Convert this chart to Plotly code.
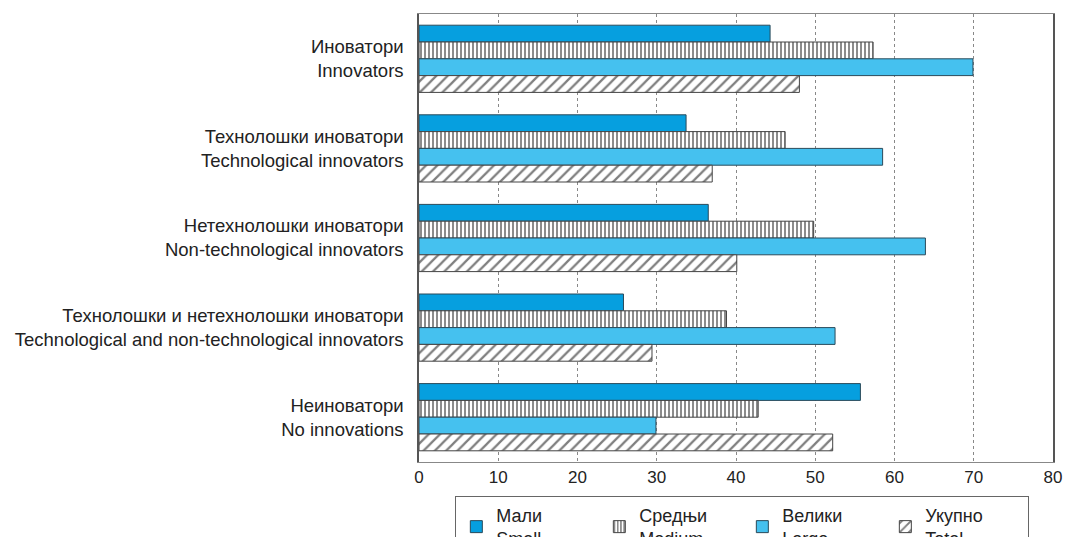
import plotly.graph_objects as go

# Kategorije (srpski + engleski)
categories = [
    "Иноватори<br>Innovators",
    "Технолошки иноватори<br>Technological innovators",
    "Нетехнолошки иноватори<br>Non-technological innovators",
    "Технолошки и нетехнолошки иноватори<br>Technological and non-technological innovators",
    "Неиноватори<br>No innovations",
]

# Vrednosti po veličini preduzeća (%)
small = [44.3, 33.7, 36.5, 25.8, 55.7]
medium = [57.3, 46.2, 49.8, 38.8, 42.8]
large = [69.9, 58.5, 63.9, 52.5, 29.9]
total = [48.0, 37.0, 40.1, 29.4, 52.2]

series_names = ["Мали<br>Small", "Средњи<br>Medium", "Велики<br>Large", "Укупно<br>Total"]
x_ticks = [0, 10, 20, 30, 40, 50, 60, 70, 80]

fig = go.Figure()

fig.add_trace(go.Bar(
    y=categories, x=small, name=series_names[0], orientation="h",
    marker=dict(color="#069fdf", line=dict(color="#2a4a5a", width=1)),
))
fig.add_trace(go.Bar(
    y=categories, x=medium, name=series_names[1], orientation="h",
    marker=dict(color="white", line=dict(color="#444444", width=1),
                pattern=dict(shape="|", fgcolor="#000000", bgcolor="white",
                             size=4, solidity=0.45)),
))
fig.add_trace(go.Bar(
    y=categories, x=large, name=series_names[2], orientation="h",
    marker=dict(color="#45c1ef", line=dict(color="#2a4a5a", width=1)),
))
fig.add_trace(go.Bar(
    y=categories, x=total, name=series_names[3], orientation="h",
    marker=dict(color="white", line=dict(color="#444444", width=1),
                pattern=dict(shape="/", fgcolor="#000000", bgcolor="white",
                             size=8, solidity=0.28)),
))

# stranica ima 8px margine body-ja, pa je figura pomerena i manja
fig.update_layout(
    width=1059,
    height=529,
    barmode="group",
    bargap=0.25,
    bargroupgap=0,
    plot_bgcolor="white",
    paper_bgcolor="white",
    font=dict(family="Liberation Sans, Arial, sans-serif", size=18.5, color="#222222"),
    margin=dict(l=411, r=7, t=5, b=75),
    legend=dict(
        orientation="h",
        x=0.51, xanchor="center",
        yref="container",
        y=0.078, yanchor="top",
        bordercolor="#666666", borderwidth=1,
        font=dict(size=18),
        entrywidth=98,
        traceorder="normal",
    ),
    xaxis=dict(
        range=[0, 80],
        tickvals=x_ticks,
        showgrid=True,
        gridcolor="#888888",
        griddash="dot",
        gridwidth=1,
        zeroline=False,
        showline=True,
        linecolor="#888888",
        mirror=True,
        ticks="",
        tickfont=dict(size=17),
        ticklabeloverflow="allow",
    ),
    yaxis=dict(
        autorange="reversed",
        showline=True,
        linecolor="#555555",
        linewidth=1.5,
        mirror=True,
        ticks="",
        ticklabelstandoff=10,
    ),
)

fig.write_html("out.html")
